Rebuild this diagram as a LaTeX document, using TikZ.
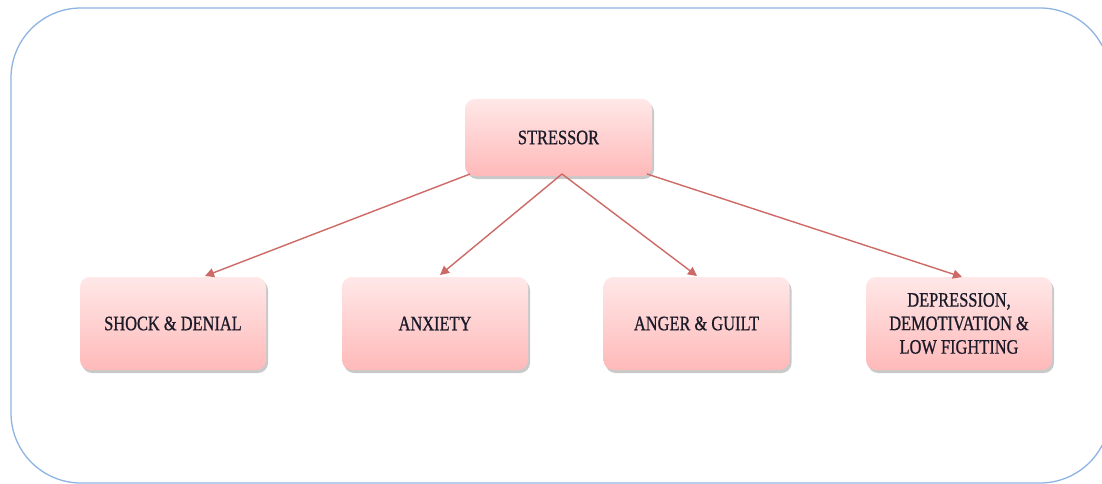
\documentclass[tikz,border=0pt]{standalone}
\usepackage{fontspec}
\setmainfont[FakeStretch=0.8,FakeBold=0.8]{Liberation Serif}
\usetikzlibrary{shadows,arrows.meta}
\definecolor{frame}{HTML}{8EB4E3}
\definecolor{boxtop}{HTML}{FFE8E8}
\definecolor{boxbot}{HTML}{FFB9B9}
\definecolor{arrowc}{HTML}{CD6A66}
\definecolor{txt}{HTML}{1A1A28}
\tikzset{
  stage/.style={rounded corners=10pt, top color=boxtop, bottom color=boxbot, draw=none,
    minimum width=186pt, minimum height=93pt, align=center, text=txt,
    font=\fontsize{20.5}{23.5}\selectfont,
    drop shadow={shadow xshift=2pt, shadow yshift=-3pt, opacity=0.35, fill=black!60}},
  link/.style={draw=arrowc, line width=1.4pt, -{Triangle[length=9pt,width=9pt]}}
}
\begin{document}
\begin{tikzpicture}[x=1pt,y=-1pt]
\useasboundingbox (0,0) rectangle (1102,484);
\fill[white] (0,0) rectangle (1102,484);
\draw[frame, line width=1.3pt, rounded corners=70pt] (11,8) rectangle (1110,483);
\node[stage, minimum width=187pt, minimum height=77pt] (s) at (558.5,137.5) {STRESSOR};
\node[stage] (a) at (173,323.5) {SHOCK \& DENIAL};
\node[stage] (b) at (435,323.5) {ANXIETY};
\node[stage] (c) at (696.5,323.5) {ANGER \& GUILT};
\node[stage] (d) at (959,323.5) {DEPRESSION,\\DEMOTIVATION \&\\LOW FIGHTING};
\coordinate (sl) at (470,174);
\coordinate (sm) at (562,174);
\coordinate (sr) at (647,174);
\coordinate (ta) at (205,276);
\coordinate (tb) at (440,275);
\coordinate (tc) at (697,276);
\coordinate (td) at (962,277);
\draw[link] (sl) -- (ta);
\draw[link] (sm) -- (tb);
\draw[link] (sm) -- (tc);
\draw[link] (sr) -- (td);
\end{tikzpicture}
\end{document}
